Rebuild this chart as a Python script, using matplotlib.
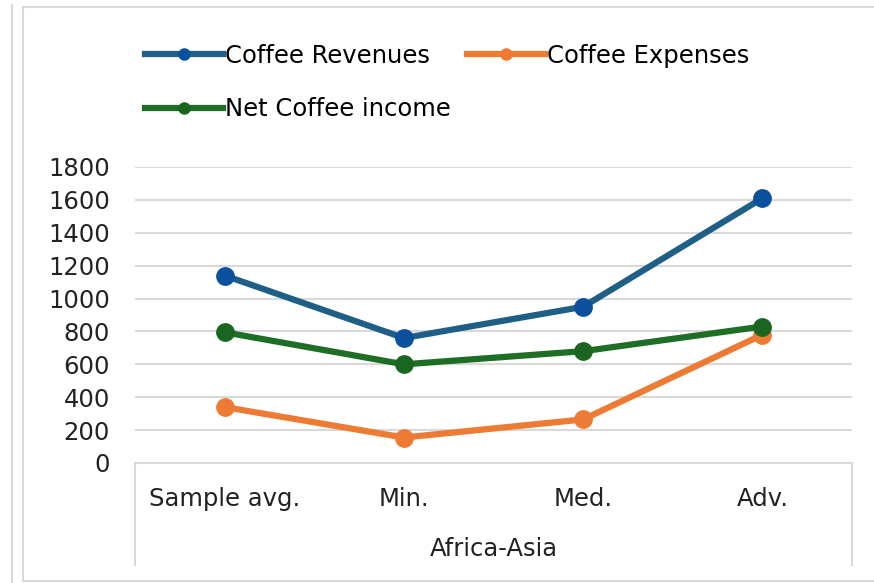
import matplotlib.pyplot as plt
from matplotlib.lines import Line2D

categories = ['Sample avg.', 'Min.', 'Med.', 'Adv.']
group_label = 'Africa-Asia'
revenues = [1140, 760, 950, 1610]
expenses = [340, 155, 265, 780]
net_income = [795, 600, 680, 830]
yticks = [0, 200, 400, 600, 800, 1000, 1200, 1400, 1600, 1800]

W, H = 874, 583
plt.rcParams['font.family'] = ['DejaVu Sans']
fig = plt.figure(figsize=(W / 100, H / 100), dpi=100)
fs = 17.5

# plot area in pixels: x 135..852, y 167..463
ax = fig.add_axes([135 / W, 1 - 463 / H, (852 - 135) / W, (463 - 167) / H])

series = [
    ('Coffee Revenues', revenues, '#1f5f86', '#0a509c'),
    ('Coffee Expenses', expenses, '#ed7b33', '#ed7b33'),
    ('Net Coffee income', net_income, '#1e6e26', '#1a6621'),
]
x = list(range(len(categories)))
handles = {}
for name, vals, lc, mc in series:
    ax.plot(x, vals, color=lc, lw=4.5, marker='o', ms=12.5,
            mfc=mc, mec=mc, clip_on=False, zorder=3, solid_capstyle='round')
    handles[name] = Line2D([], [], color=lc, lw=4.5, marker='o', ms=8,
                           mfc=mc, mec=mc, label=name)

ax.set_xlim(-0.5, len(categories) - 0.5)
ax.set_ylim(0, 1800)
ax.set_yticks(yticks)
ax.tick_params(axis='y', length=0, pad=18, labelsize=fs, colors='#222222')
ax.set_xticks(x)
ax.set_xticklabels(categories)
ax.tick_params(axis='x', length=0, pad=17, labelsize=fs, colors='#222222')
ax.grid(axis='y', color='#d9d9d9', lw=1.5)
ax.set_axisbelow(True)
for s in ['top', 'right', 'left']:
    ax.spines[s].set_visible(False)
ax.spines['bottom'].set_color('#d9d9d9')
ax.spines['bottom'].set_linewidth(1.5)

# multi-level category box
for xa in [0, 1]:
    ax.add_line(Line2D([xa, xa], [0, -0.345], transform=ax.transAxes,
                       color='#d9d9d9', lw=1.5, clip_on=False))
ax.text(0.5, -0.29, group_label, transform=ax.transAxes, ha='center',
        va='center', fontsize=fs, color='#222222')

# legend filled column-wise: order so rows read Revenues, Expenses / Net
order = ['Coffee Revenues', 'Net Coffee income', 'Coffee Expenses']
fig.legend(handles=[handles[n] for n in order], loc='upper left',
           bbox_to_anchor=(145 / W, 1 - 44 / H),
           ncol=2, frameon=False, fontsize=fs, borderpad=0, borderaxespad=0,
           handlelength=3.2, handletextpad=0.1, columnspacing=0.65,
           labelspacing=1.2)

# outer frame
fc = '#d9d9d9'
fig.add_artist(Line2D([12 / W, 12 / W], [0, 1 - 5 / H], color=fc, lw=1.5))
fig.add_artist(Line2D([23 / W, 23 / W], [1 - 581 / H, 1 - 7 / H], color=fc, lw=1.5))
fig.add_artist(Line2D([23 / W, 1], [1 - 7 / H, 1 - 7 / H], color=fc, lw=1.5))
fig.add_artist(Line2D([23 / W, 1], [1 - 581 / H, 1 - 581 / H], color=fc, lw=1.5))

fig.savefig('out.png', dpi=100)
